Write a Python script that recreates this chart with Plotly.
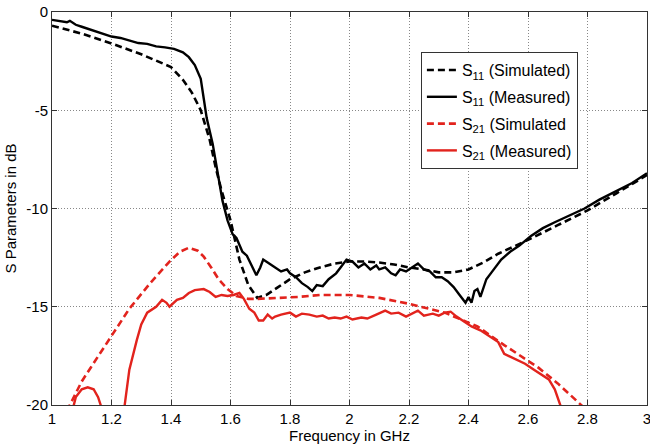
import plotly.graph_objects as go

# S11 simulated
f_s11_sim = [1.0, 1.05, 1.1, 1.2, 1.3, 1.4, 1.44, 1.47, 1.5, 1.53, 1.55, 1.57, 1.6, 1.63, 1.66, 1.69,
             1.72, 1.76, 1.8, 1.85, 1.9, 1.95, 2.0, 2.05, 2.1, 2.15, 2.2, 2.25, 2.3, 2.35, 2.4, 2.45,
             2.5, 2.55, 2.6, 2.7, 2.8, 2.9, 3.0]
s11_sim = [-0.7, -0.9, -1.1, -1.6, -2.15, -2.8, -3.45, -4.1, -5.0, -6.5, -7.9, -9.1, -10.6, -12.6, -13.9, -14.55,
           -14.4, -14.0, -13.6, -13.25, -13.0, -12.8, -12.7, -12.7, -12.75, -12.85, -13.0, -13.1, -13.25, -13.25, -13.1, -12.75,
           -12.3, -11.95, -11.6, -10.85, -10.1, -9.2, -8.3]

# S11 measured
f_s11_meas = [1.00, 1.03, 1.05, 1.06, 1.08, 1.10, 1.13, 1.16, 1.20, 1.23, 1.26, 1.29, 1.32, 1.35, 1.38, 1.41,
              1.44, 1.46, 1.48, 1.50, 1.51, 1.52, 1.54, 1.556, 1.573, 1.59, 1.607, 1.62, 1.64, 1.655, 1.668, 1.687,
              1.70, 1.71, 1.73, 1.75, 1.77, 1.79, 1.80, 1.82, 1.84, 1.86, 1.875, 1.89, 1.91, 1.93, 1.955, 1.97,
              1.99, 2.01, 2.03, 2.05, 2.07, 2.09, 2.10, 2.12, 2.14, 2.155, 2.17, 2.19, 2.21, 2.23, 2.25, 2.27,
              2.29, 2.31, 2.33, 2.35, 2.37, 2.39, 2.40, 2.41, 2.42, 2.43, 2.44, 2.46, 2.48, 2.51, 2.54, 2.57,
              2.61, 2.65, 2.69, 2.74, 2.79, 2.84, 2.90, 2.95, 3.00]
s11_meas = [-0.40, -0.48, -0.52, -0.45, -0.65, -0.75, -0.90, -1.05, -1.25, -1.32, -1.45, -1.58, -1.62, -1.75, -1.80, -1.88,
            -2.05, -2.30, -2.70, -3.40, -4.40, -5.40, -6.70, -8.20, -9.60, -10.6, -11.3, -11.5, -12.2, -12.4, -12.8, -13.4,
            -13.0, -12.6, -12.8, -13.0, -13.2, -13.1, -13.3, -13.5, -13.8, -14.0, -14.2, -13.9, -13.95, -13.6, -13.3, -13.0,
            -12.6, -12.7, -13.0, -12.8, -13.1, -12.9, -13.1, -13.0, -13.3, -13.4, -13.1, -13.2, -13.0, -12.8, -13.1, -13.2,
            -13.5, -13.5, -13.7, -14.0, -14.4, -14.8, -14.5, -14.8, -14.2, -14.1, -14.5, -13.6, -13.2, -12.6, -12.2, -11.9,
            -11.4, -11.0, -10.7, -10.35, -10.0, -9.55, -9.1, -8.7, -8.2]

# S21 simulated
f_s21_sim = [1.05, 1.10, 1.13, 1.20, 1.26, 1.33, 1.395, 1.43, 1.46, 1.49, 1.51, 1.535, 1.56, 1.59, 1.62, 1.66,
             1.69, 1.76, 1.83, 1.9, 2.0, 2.1, 2.2, 2.32, 2.43, 2.52, 2.635, 2.70, 2.78, 2.80]
s21_sim = [-20.3, -18.8, -18.1, -16.5, -15.1, -13.8, -12.7, -12.2, -12.0, -12.15, -12.45, -13.0, -13.6, -14.1, -14.45, -14.6,
           -14.6, -14.55, -14.5, -14.4, -14.4, -14.55, -14.85, -15.3, -16.0, -16.95, -18.1, -18.9, -20.0, -20.3]

# S21 measured (None separates the two visible segments)
f_s21_meas = [1.065, 1.08, 1.10, 1.12, 1.14, 1.155, 1.17, None,
              1.24, 1.26, 1.285, 1.30, 1.32, 1.35, 1.37, 1.385, 1.395, 1.42, 1.44, 1.46, 1.48, 1.51, 1.53, 1.55,
              1.57, 1.59, 1.61, 1.63, 1.645, 1.663, 1.68, 1.695, 1.71, 1.725, 1.74, 1.75, 1.77, 1.80, 1.82, 1.84,
              1.865, 1.89, 1.91, 1.93, 1.95, 1.97, 1.99, 2.01, 2.04, 2.06, 2.09, 2.12, 2.14, 2.165, 2.19, 2.21,
              2.23, 2.25, 2.28, 2.30, 2.32, 2.34, 2.36, 2.39, 2.41, 2.44, 2.47, 2.50, 2.52, 2.55, 2.59, 2.62,
              2.65, 2.67, 2.69, 2.71, 2.72]
s21_meas = [-20.5, -19.6, -19.2, -19.1, -19.2, -19.6, -20.3, None,
            -20.5, -18.2, -16.7, -15.9, -15.3, -15.0, -14.65, -14.8, -15.0, -14.65, -14.55, -14.3, -14.15, -14.1, -14.25, -14.5,
            -14.4, -14.45, -14.4, -14.3, -14.6, -15.1, -15.3, -15.7, -15.7, -15.4, -15.6, -15.5, -15.4, -15.3, -15.5, -15.35,
            -15.4, -15.5, -15.45, -15.6, -15.55, -15.6, -15.5, -15.65, -15.55, -15.6, -15.4, -15.2, -15.35, -15.3, -15.5, -15.35,
            -15.2, -15.45, -15.35, -15.45, -15.3, -15.25, -15.5, -15.8, -16.0, -16.2, -16.5, -16.8, -17.4, -17.6, -17.9, -18.2,
            -18.5, -18.7, -19.2, -20.0, -20.5]

x_ticks = [1, 1.2, 1.4, 1.6, 1.8, 2, 2.2, 2.4, 2.6, 2.8, 3]
x_ticklabels = ["1", "1.2", "1.4", "1.6", "1.8", "2", "2.2", "2.4", "2.6", "2.8", "3"]
y_ticks = [0, -5, -10, -15, -20]
y_ticklabels = ["0", "-5", "-10", "-15", "-20"]

RED = "#e2231d"
DASH = "7px,4px"
FONT = "Liberation Sans, Arial, sans-serif"

fig = go.Figure()
fig.add_trace(go.Scatter(x=f_s11_sim, y=s11_sim, mode="lines", name="S<sub>11</sub> (Simulated)",
                         legendgroup="a", line=dict(color="black", width=2.6, dash=DASH)))
fig.add_trace(go.Scatter(x=f_s11_meas, y=s11_meas, mode="lines", name="S<sub>11</sub> (Measured)",
                         legendgroup="b", line=dict(color="black", width=2.4)))
fig.add_trace(go.Scatter(x=f_s21_sim, y=s21_sim, mode="lines", name="S<sub>21</sub> (Simulated",
                         legendgroup="c", line=dict(color=RED, width=2.6, dash=DASH)))
fig.add_trace(go.Scatter(x=f_s21_meas, y=s21_meas, mode="lines", name="S<sub>21</sub> (Measured)",
                         legendgroup="d", line=dict(color=RED, width=2.4), connectgaps=False))

axis_common = dict(showline=True, linecolor="#333", linewidth=1, mirror="allticks",
                   ticks="inside", ticklen=5, tickcolor="#333",
                   showgrid=True, gridcolor="#888", griddash="1px,2px", gridwidth=1,
                   zeroline=False, automargin=False, ticklabeloverflow="allow",
                   tickfont=dict(size=15, color="black", family=FONT))

fig.update_xaxes(range=[1, 3], tickvals=x_ticks, ticktext=x_ticklabels,
                 title=dict(text="Frequency in GHz", font=dict(size=15, color="black", family=FONT), standoff=2),
                 **axis_common)
fig.update_yaxes(range=[-20, 0], tickvals=y_ticks, ticktext=y_ticklabels,
                 title=dict(text="S Parameters in dB", font=dict(size=15, color="black", family=FONT), standoff=6),
                 **axis_common)

fig.update_layout(
    width=650, height=448, autosize=False,
    margin=dict(l=52, r=3, t=12, b=43),
    plot_bgcolor="white", paper_bgcolor="white",
    font=dict(family=FONT, color="black"),
    legend=dict(x=0.62, y=0.898, xanchor="left", yanchor="top",
                bgcolor="white", bordercolor="#333", borderwidth=1,
                font=dict(size=16, color="black", family=FONT),
                tracegroupgap=3, itemwidth=30),
    showlegend=True,
)

fig.write_html("out.html", config={"responsive": False, "displayModeBar": False},
               default_width="650px", default_height="448px",
               post_script="document.body.style.margin='0';document.body.style.padding='0';")
